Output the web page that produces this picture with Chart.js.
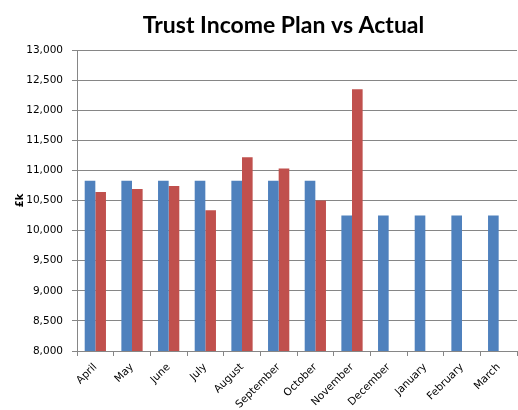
<!DOCTYPE html>
<html>
<head>
<meta charset="utf-8">
<script src="https://cdn.jsdelivr.net/npm/chart.js@4"></script>
<style>
  html, body { margin: 0; padding: 0; background: #fff; }
  #wrap { width: 518px; height: 410px; }
</style>
</head>
<body>
<div id="wrap"><canvas id="chart"></canvas></div>
<script>
// months of the financial year
const months = ['April', 'May', 'June', 'July', 'August', 'September',
    'October', 'November', 'December', 'January', 'February', 'March'];
// plan values (£k)
const plan = [10830, 10830, 10830, 10830, 10830, 10830, 10830, 10250, 10250, 10250, 10250, 10250];
// actual values (£k), only up to November
const actual = [10640, 10690, 10740, 10340, 11220, 11030, 10500, 12350, null, null, null, null];
const yMin = 8000;
const yMax = 13000;
const yStep = 500;

const gray = '#868686';

// the title in the original sits a bit right of the canvas centre
const shiftTitle = {
    id: 'shiftTitle',
    afterLayout(chart) {
        if (chart.titleBlock) chart.titleBlock.left = 50;
    }
};

new Chart(document.getElementById('chart'), {
    type: 'bar',
    data: {
        labels: months,
        datasets: [{
            label: 'Plan',
            data: plan,
            backgroundColor: '#4F81BD',
            categoryPercentage: 0.58,
            barPercentage: 1.0
        }, {
            label: 'Actual',
            data: actual,
            backgroundColor: '#C0504D',
            categoryPercentage: 0.58,
            barPercentage: 1.0
        }]
    },
    plugins: [shiftTitle],
    options: {
        responsive: true,
        maintainAspectRatio: false,
        animation: false,
        layout: { padding: { left: 0, right: 1, top: 0, bottom: 0 } },
        plugins: {
            legend: { display: false },
            tooltip: { enabled: false },
            title: {
                display: true,
                text: 'Trust Income Plan vs Actual',
                color: '#000',
                font: { family: 'Lato', size: 23, weight: 'bold', lineHeight: 1.2 },
                padding: { top: 12, bottom: 10.4 }
            }
        },
        scales: {
            x: {
                grid: { drawOnChartArea: false, drawTicks: true, tickLength: 5, color: gray },
                border: { color: gray },
                ticks: {
                    color: '#000',
                    font: { family: 'DejaVu Sans', size: 10.5 },
                    maxRotation: 45,
                    minRotation: 45,
                    padding: 5
                },
                afterFit: function(scale) { scale.height = 59; }
            },
            y: {
                min: yMin,
                max: yMax,
                grid: { color: gray, tickLength: 5 },
                border: { color: gray },
                ticks: {
                    stepSize: yStep,
                    color: '#000',
                    padding: 9,
                    font: { family: 'DejaVu Sans', size: 10.5 },
                    callback: v => v.toLocaleString('en-US')
                },
                title: {
                    display: true,
                    text: '£k',
                    color: '#000',
                    font: { family: 'DejaVu Sans', size: 10, weight: 'bold', lineHeight: 1.2 },
                    padding: { top: 14, bottom: 0 }
                },
                afterFit: function(scale) { scale.width = 77; }
            }
        }
    }
});
</script>
</body>
</html>
